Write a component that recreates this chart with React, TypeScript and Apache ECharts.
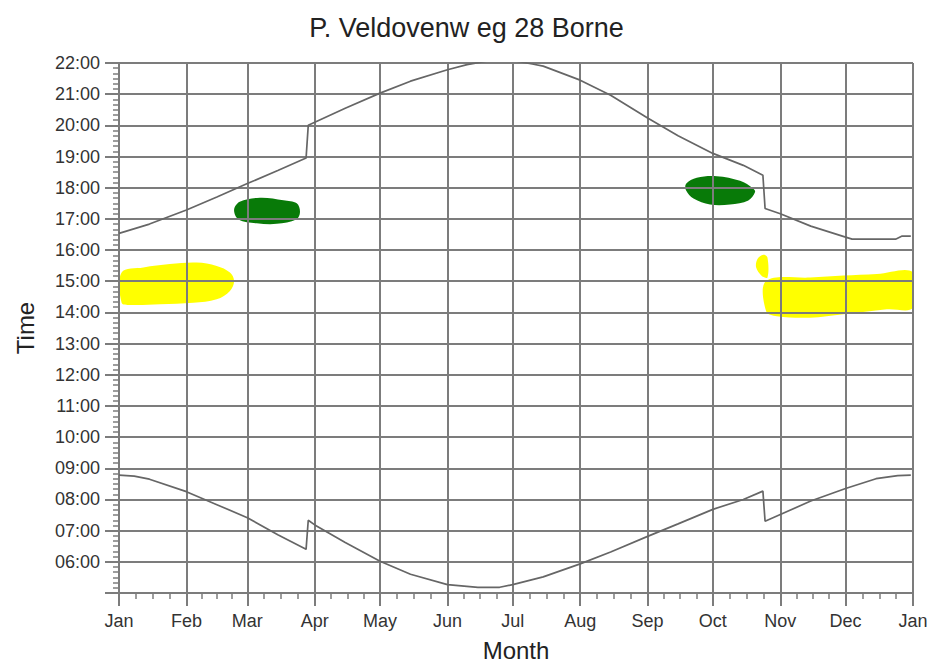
import React, { useEffect, useRef } from "react";
import * as echarts from "echarts";

const TITLE = "P. Veldovenw eg 28 Borne";
const X_NAME = "Month";
const Y_NAME = "Time";
const YEAR = 2009;
const MONTH_LABELS = ["Jan", "Feb", "Mar", "Apr", "May", "Jun", "Jul", "Aug", "Sep", "Oct", "Nov", "Dec"];
const HOUR_MIN = 5;
const HOUR_MAX = 22;

// Sunrise (lower curve)
const sunriseDates = ["01-01", "01-08", "01-15", "02-01", "02-15", "03-01", "03-15", "03-28", "03-29", "04-01", "04-15", "05-01", "05-15", "06-01", "06-15", "06-25", "07-01", "07-15", "08-01", "08-15", "09-01", "09-15", "10-01", "10-15", "10-24", "10-25", "11-01", "11-15", "12-01", "12-15", "12-25", "12-31"];
const sunriseTimes = ["08:47", "08:45", "08:39", "08:15", "07:50", "07:25", "06:52", "06:24", "07:20", "07:11", "06:37", "06:01", "05:36", "05:16", "05:11", "05:11", "05:16", "05:31", "05:56", "06:19", "06:49", "07:13", "07:41", "08:00", "08:16", "07:18", "07:31", "07:57", "08:21", "08:40", "08:46", "08:47"];

// Sunset (upper curve)
const sunsetDates = ["01-01", "01-15", "02-01", "02-15", "03-01", "03-15", "03-28", "03-29", "04-01", "04-15", "05-01", "05-15", "06-01", "06-10", "06-21", "07-01", "07-10", "07-15", "08-01", "08-15", "09-01", "09-15", "10-01", "10-15", "10-24", "10-25", "11-01", "11-15", "12-01", "12-04", "12-24", "12-27", "12-31"];
const sunsetTimes = ["16:32", "16:50", "17:17", "17:42", "18:08", "18:33", "18:57", "20:00", "20:06", "20:33", "21:02", "21:25", "21:47", "21:57", "22:05", "22:05", "21:58", "21:54", "21:27", "20:58", "20:14", "19:40", "19:06", "18:43", "18:24", "17:20", "17:10", "16:46", "16:25", "16:21", "16:21", "16:27", "16:27"];

// Highlighted areas: outlines as [day of year, hour]
const yellowWinter = [[1.2, 15.28], [11.2, 15.44], [23.4, 15.55], [35.7, 15.6], [44.9, 15.49], [51, 15.28], [52.9, 15.01], [51, 14.69], [44.9, 14.42], [34.2, 14.31], [18.9, 14.26], [5.1, 14.24], [1.2, 14.31]];
const greenSpring = [[52.9, 17.29], [55.5, 17.55], [64.8, 17.68], [75.6, 17.6], [81.7, 17.5], [83.2, 17.22], [81.5, 16.98], [72.5, 16.84], [63.3, 16.86], [55, 16.98]];
const greenAutumn = [[260.7, 18.13], [265.6, 18.32], [274.8, 18.37], [285.5, 18.22], [291.6, 17.97], [292.4, 17.86], [289.3, 17.59], [280.9, 17.46], [271.7, 17.46], [264.1, 17.65], [260.7, 17.91]];
const yellowSmall = [[296.2, 15.85], [298.1, 15.76], [298.1, 15.12], [295.5, 15.17], [292.9, 15.44], [293.5, 15.71]];
const yellowAutumn = [[297.5, 15.01], [317.7, 15.12], [348.4, 15.23], [365, 15.28], [365, 14.15], [353, 14.1], [333, 13.94], [317.7, 13.83], [302.4, 13.88], [297.5, 14.04]];

const YELLOW = "#ffff00";
const GREEN = "#087a08";
const blobs = [
  { outline: yellowWinter, color: YELLOW },
  { outline: greenSpring, color: GREEN },
  { outline: greenAutumn, color: GREEN },
  { outline: yellowSmall, color: YELLOW },
  { outline: yellowAutumn, color: YELLOW },
];

const DAY = 86400000;
const FONT = "'Liberation Sans', Arial, sans-serif";
const GRID = "#7c7c7c";
const CURVE = "#666666";

const toHours = (s: string) => {
  const [h, m] = s.split(":").map(Number);
  return h + m / 60;
};
const dateTs = (md: string) => {
  const [m, d] = md.split("-").map(Number);
  return Date.UTC(YEAR, m - 1, d);
};
const dayTs = (d: number) => Date.UTC(YEAR, 0, 1) + d * DAY;
const pad = (n: number) => (n < 10 ? "0" + n : "" + n);

export default function App() {
  const ref = useRef<HTMLDivElement>(null);
  useEffect(() => {
    const chart = echarts.init(ref.current!, null, { renderer: "svg" });
    const option: any = {
      animation: false,
      useUTC: true,
      backgroundColor: "#ffffff",
      title: {
        text: TITLE,
        left: "center",
        top: 9,
        textStyle: { fontFamily: FONT, fontSize: 27, fontWeight: "normal", color: "#222" },
      },
      grid: { left: 119, right: 20, top: 63, bottom: 71, containLabel: false, outerBoundsMode: "none" },
      xAxis: {
        type: "time",
        min: Date.UTC(YEAR, 0, 1),
        max: Date.UTC(YEAR + 1, 0, 1),
        minInterval: 28 * DAY,
        maxInterval: 31 * DAY,
        splitNumber: 12,
        name: X_NAME,
        nameLocation: "middle",
        nameGap: 45,
        nameTextStyle: { fontFamily: FONT, fontSize: 24, color: "#222" },
        axisLine: { show: true, lineStyle: { color: GRID, width: 2 } },
        axisTick: { show: true, length: 13, lineStyle: { color: GRID, width: 2 } },
        minorTick: { show: true, splitNumber: 4, length: 6, lineStyle: { color: GRID, width: 1.5 } },
        splitLine: { show: true, lineStyle: { color: GRID, width: 2 } },
        axisLabel: {
          formatter: (v: number) => MONTH_LABELS[new Date(v).getUTCMonth()],
          fontFamily: FONT,
          fontSize: 18,
          color: "#333",
          margin: 19,
          showMinLabel: true,
          showMaxLabel: true,
          hideOverlap: false,
        },
      },
      yAxis: {
        type: "value",
        min: HOUR_MIN,
        max: HOUR_MAX,
        interval: 1,
        name: Y_NAME,
        nameLocation: "middle",
        nameRotate: 90,
        nameGap: 82,
        nameTextStyle: { fontFamily: FONT, fontSize: 24, color: "#222" },
        axisLine: { show: true, lineStyle: { color: GRID, width: 2 } },
        axisTick: { show: true, length: 14, lineStyle: { color: GRID, width: 2 } },
        minorTick: { show: true, splitNumber: 6, length: 6, lineStyle: { color: GRID, width: 1.5 } },
        splitLine: { show: true, lineStyle: { color: GRID, width: 2 } },
        axisLabel: {
          formatter: (v: number) => (v === HOUR_MIN ? "" : pad(v) + ":00"),
          fontFamily: FONT,
          fontSize: 18,
          color: "#333",
          margin: 19,
        },
      },
      series: [
        {
          type: "custom",
          z: -1,
          clip: true,
          silent: true,
          data: blobs.map((b, i) => [i]),
          renderItem: (params: any, api: any) => {
            const b = blobs[params.dataIndex];
            const pts = b.outline.map((p) => api.coord([dayTs(p[0]), p[1]]));
            return {
              type: "polygon",
              shape: { points: pts, smooth: 0.35 },
              style: { fill: b.color, stroke: null },
            };
          },
        },
        {
          type: "line",
          name: "sunset",
          showSymbol: false,
          clip: true,
          lineStyle: { color: CURVE, width: 1.7 },
          data: sunsetDates.map((d, i) => [dateTs(d), toHours(sunsetTimes[i])]),
        },
        {
          type: "line",
          name: "sunrise",
          showSymbol: false,
          clip: true,
          lineStyle: { color: CURVE, width: 1.7 },
          data: sunriseDates.map((d, i) => [dateTs(d), toHours(sunriseTimes[i])]),
        },
      ],
    };
    chart.setOption(option);
    return () => chart.dispose();
  }, []);
  return (
    <div
      ref={ref}
      style={{ position: "fixed", left: 0, top: 0, width: 933, height: 664, background: "#fff" }}
    />
  );
}
